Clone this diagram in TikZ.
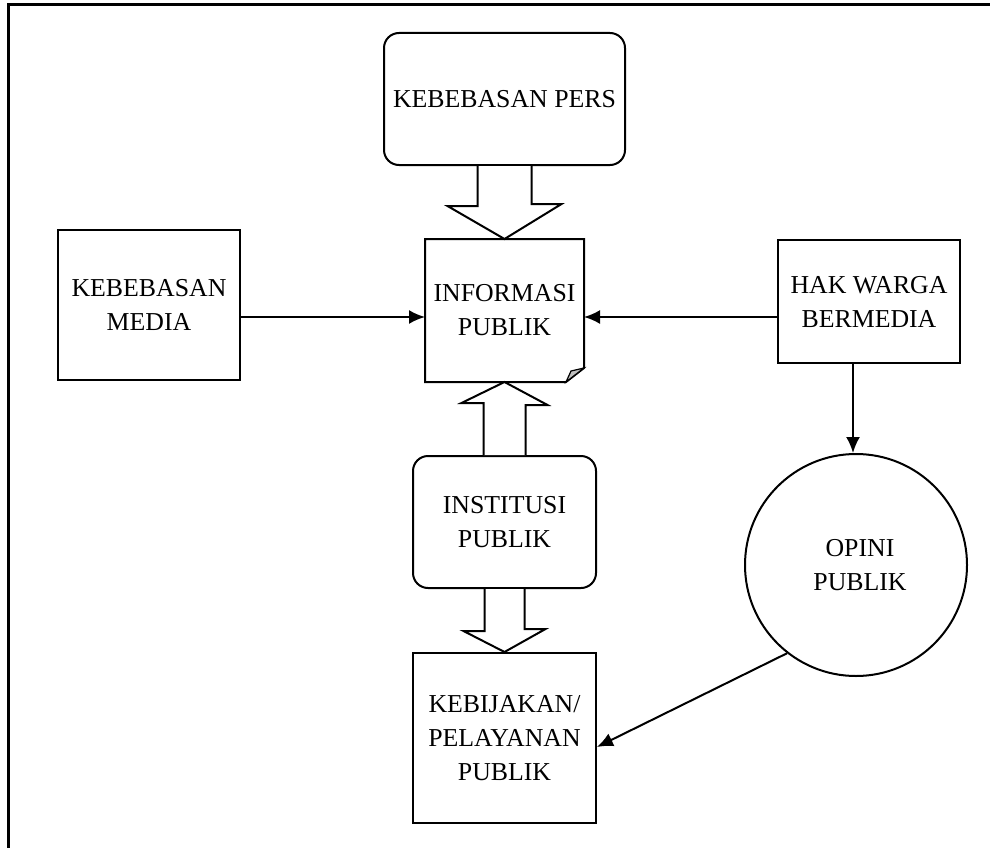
\documentclass[tikz,border=0pt]{standalone}
\usepackage{fontspec}
\setmainfont{Liberation Serif}
\usetikzlibrary{arrows.meta}
\newcommand\boxfont{\fontsize{25.8}{34}\selectfont}
\tikzset{
  box/.style={draw, line width=2pt, align=center, inner sep=0pt, font=\boxfont},
  rbox/.style={box, rounded corners=15pt},
  blk/.style={draw, line width=2pt, fill=white, line join=miter},
  arr/.style={line width=2pt, -{Latex[length=16pt,width=14pt]}}
}

\begin{document}
\begin{tikzpicture}[x=1pt,y=-1pt]
	\useasboundingbox (0,0) rectangle (990,848);
	\draw[line width=3pt] (8,848) -- (8,5) -- (990,5);

	% boxes
	\node[rbox, minimum width=241pt, minimum height=132pt] (pers) at (504.5,99) {KEBEBASAN PERS};
	\node[box, draw=none, minimum width=157pt, minimum height=141pt] (info) at (504.5,310.5) {INFORMASI\\PUBLIK};
	\node[box, minimum width=182pt, minimum height=150pt] (media) at (149,305) {KEBEBASAN\\MEDIA};
	\node[box, minimum width=182pt, minimum height=123pt] (hak) at (869,301.5) {HAK WARGA\\BERMEDIA};
	\node[rbox, minimum width=183pt, minimum height=132pt] (inst) at (504.5,522) {INSTITUSI\\PUBLIK};
	\node[box, minimum width=183pt, minimum height=170pt] (keb) at (504.5,738) {KEBIJAKAN/\\PELAYANAN\\PUBLIK};
	\node[box, circle, minimum size=222pt] (opini) at (856,565) {\hspace*{8pt}OPINI\\\hspace*{8pt}PUBLIK};

	% informasi publik with folded corner
	\draw[line width=2pt, line join=miter] (info.north west) -- (info.north east) -- ([yshift=14pt]info.south east)
		-- ([xshift=-18pt]info.south east) -- (info.south west) -- cycle;
	\draw[line width=1.2pt, fill=gray!50] ([yshift=14pt]info.south east) -- ([xshift=-13pt,yshift=11pt]info.south east)
		-- ([xshift=-18pt]info.south east) -- cycle;

	% block arrows
	\draw[blk] ([xshift=-27pt]pers.south) -- ++(0,40) -- ++(-30,0) -- (info.north) -- ++(57,-35) -- ++(-30,0) -- ([xshift=27pt]pers.south);
	\draw[blk] ([xshift=-21pt]inst.north) -- ++(0,-52) -- ++(-22,0) -- (info.south) -- ++(43,23) -- ++(-22,0) -- ([xshift=21pt]inst.north);
	\draw[blk] ([xshift=-20pt]inst.south) -- ++(0,42) -- ++(-21,0) -- (keb.north) -- ++(41,-23) -- ++(-21,0) -- ([xshift=20pt]inst.south);

	% connectors
	\coordinate (m) at ([yshift=-12pt]media.east);
	\coordinate (h) at ([yshift=-15.5pt]hak.west);
	\coordinate (hs) at ([xshift=-16pt]hak.south);
	\draw[arr] (m) -- (m -| info.west);
	\draw[arr] (h) -- (h -| info.east);
	\draw[arr] (hs) -- (hs |- opini.north);
	\draw[arr] (opini.232) -- ([yshift=-9pt]keb.east);
\end{tikzpicture}
\end{document}
